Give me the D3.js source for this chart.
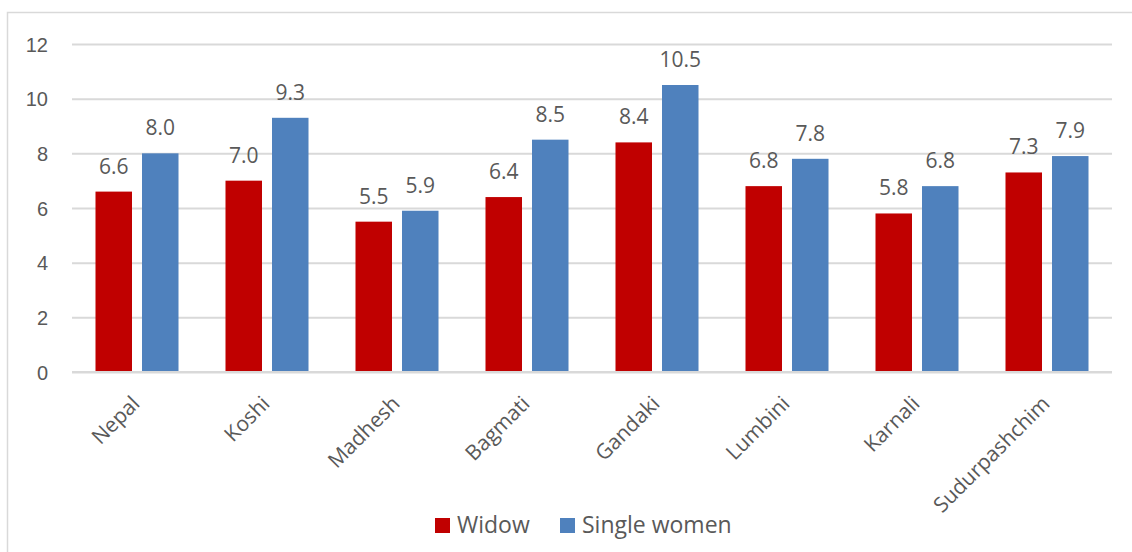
<!DOCTYPE html>
<html>
<head>
<meta charset="utf-8">
<script src="https://cdn.jsdelivr.net/npm/d3@7"></script>
<style>
  html, body { margin: 0; padding: 0; background: #fff; }
  svg { display: block; font-family: "Open Sans", "Noto Sans", sans-serif; }
</style>
</head>
<body>
<svg id="chart" width="1132" height="552"></svg>
<script>
// Provinces of Nepal and the two series being compared
const categories = ["Nepal", "Koshi", "Madhesh", "Bagmati", "Gandaki", "Lumbini", "Karnali", "Sudurpashchim"];
const widow = [6.6, 7.0, 5.5, 6.4, 8.4, 6.8, 5.8, 7.3];
const singleWomen = [8.0, 9.3, 5.9, 8.5, 10.5, 7.8, 6.8, 7.9];
const seriesNames = ["Widow", "Single women"];
const yTicks = [0, 2, 4, 6, 8, 10, 12];

const colors = { "Widow": "#C00000", "Single women": "#4F81BD" };
const textColor = "#595959";
const gridColor = "#D9D9D9";

const svg = d3.select("#chart");
const margin = { left: 72, top: 44 };
const plotRight = 1112, plotBottom = 372;

// outer chart frame
svg.append("rect")
  .attr("x", 7.5).attr("y", 12.5)
  .attr("width", 1135).attr("height", 560)
  .attr("fill", "none").attr("stroke", gridColor).attr("stroke-width", 1.5);

const x0 = d3.scaleBand()
  .domain(categories)
  .range([margin.left, plotRight])
  .paddingInner(0.3615)
  .paddingOuter(0.3615 / 2);

const x1 = d3.scaleBand()
  .domain(seriesNames)
  .range([0, x0.bandwidth()])
  .paddingInner(0.215)
  .paddingOuter(0);

const y = d3.scaleLinear().domain([0, 12]).range([plotBottom, margin.top]);

// horizontal gridlines via a left axis with full-width ticks
const yAxis = svg.append("g")
  .attr("transform", `translate(${margin.left},0)`)
  .call(d3.axisLeft(y).tickValues(yTicks).tickSize(-(plotRight - margin.left)).tickPadding(24).tickFormat(d3.format("d")));
yAxis.select(".domain").remove();
yAxis.selectAll(".tick line").attr("stroke", gridColor).attr("stroke-width", 2);
yAxis.selectAll(".tick text")
  .attr("fill", textColor)
  .style("font-size", "20px")
  .attr("dy", "0.36em");

const rows = categories.map((c, i) => ({ cat: c, values: [
  { key: "Widow", value: widow[i] },
  { key: "Single women", value: singleWomen[i] }
]}));

const groups = svg.append("g").selectAll("g")
  .data(rows).join("g")
  .attr("transform", d => `translate(${x0(d.cat)},0)`);

groups.selectAll("rect")
  .data(d => d.values).join("rect")
  .attr("x", d => x1(d.key))
  .attr("width", x1.bandwidth())
  .attr("y", d => y(d.value))
  .attr("height", d => y(0) - y(d.value))
  .attr("fill", d => colors[d.key]);

// value labels above each bar
groups.selectAll("text")
  .data(d => d.values).join("text")
  .attr("x", d => x1(d.key) + x1.bandwidth() / 2)
  .attr("y", d => y(d.value) - 18)
  .attr("text-anchor", "middle")
  .attr("fill", textColor)
  .style("font-size", "21px")
  .text(d => d3.format(".1f")(d.value));

// baseline at zero
svg.append("line")
  .attr("x1", margin.left).attr("x2", plotRight)
  .attr("y1", y(0)).attr("y2", y(0))
  .attr("stroke", gridColor).attr("stroke-width", 2);

// rotated category labels
svg.append("g").selectAll("text")
  .data(categories).join("text")
  .attr("transform", d => `translate(${x0(d) + x0.bandwidth() / 2 + 4},${405}) rotate(-45)`)
  .attr("text-anchor", "end")
  .attr("fill", textColor)
  .style("font-size", "21px")
  .text(d => d);

// legend
const legend = svg.append("g");
const legendItems = [
  { key: "Widow", x: 435 },
  { key: "Single women", x: 560 }
];
legend.selectAll("rect")
  .data(legendItems).join("rect")
  .attr("x", d => d.x).attr("y", 518)
  .attr("width", 15).attr("height", 15)
  .attr("fill", d => colors[d.key]);
legend.selectAll("text")
  .data(legendItems).join("text")
  .attr("x", d => d.x + 22).attr("y", 533)
  .attr("fill", textColor)
  .style("font-size", "23px")
  .text(d => d.key);
</script>
</body>
</html>
